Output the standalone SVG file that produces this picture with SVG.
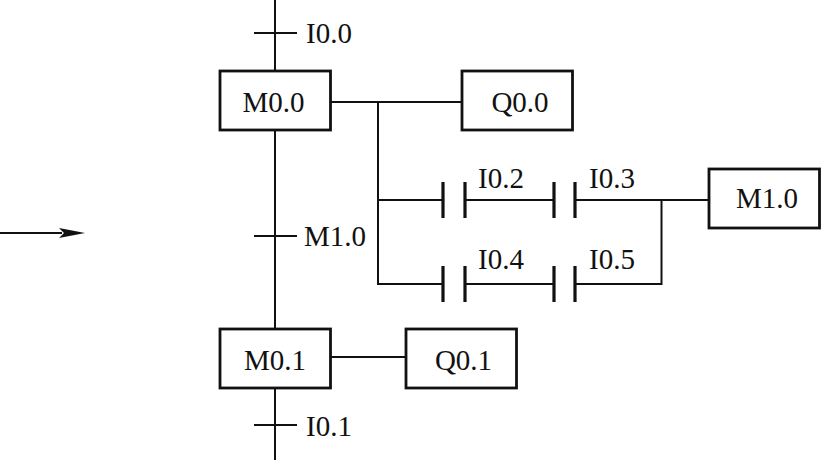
<svg xmlns="http://www.w3.org/2000/svg" width="821" height="460" viewBox="0 0 821 460">
<style>
.b{fill:#fff;stroke:#111;stroke-width:2.8}
.l{fill:none;stroke:#111;stroke-width:2}
.c{fill:none;stroke:#111;stroke-width:3.2}
text{font-family:"Liberation Serif","Times New Roman",serif;font-size:29px;fill:#111}
</style>
<rect width="821" height="460" fill="#fff"/>
<g id="connectors">
<path class="l" d="M275 0V71M254 33H297M275 130V329M254 236H297M275 388V460M254 425H297"/>
<path class="l" d="M331 102H462M378 102V284H443M378 200H443M465 200H554M575 200H709M465 284H554M575 284H661.500V200M331 357H406"/>
<path class="c" d="M443 182V218M465 182V218M554 182V218M575 182V218M443 266V302M465 266V302M554 266V302M575 266V302"/>
<path class="l" d="M0 233H62"/>
<path d="M85 233L59 228L64 233L59 238Z" fill="#111"/>
</g>
<g id="m00"><rect class="b" x="220" y="71" width="110.500" height="59"/><text x="273.500" y="112" text-anchor="middle">M0.0</text></g>
<g id="q00"><rect class="b" x="462" y="71" width="110.500" height="59"/><text x="520" y="112" text-anchor="middle">Q0.0</text></g>
<g id="m10"><rect class="b" x="709" y="169" width="110.500" height="59"/><text x="767" y="208" text-anchor="middle">M1.0</text></g>
<g id="m01"><rect class="b" x="220" y="329" width="110.500" height="59"/><text x="275" y="370" text-anchor="middle">M0.1</text></g>
<g id="q01"><rect class="b" x="406" y="329" width="110.500" height="59"/><text x="463.500" y="370" text-anchor="middle">Q0.1</text></g>
<g id="labels">
<text x="306" y="43">I0.0</text>
<text x="304" y="246">M1.0</text>
<text x="306" y="436">I0.1</text>
<text x="478" y="188">I0.2</text>
<text x="589" y="188">I0.3</text>
<text x="478" y="269">I0.4</text>
<text x="589" y="269">I0.5</text>
</g>
</svg>
